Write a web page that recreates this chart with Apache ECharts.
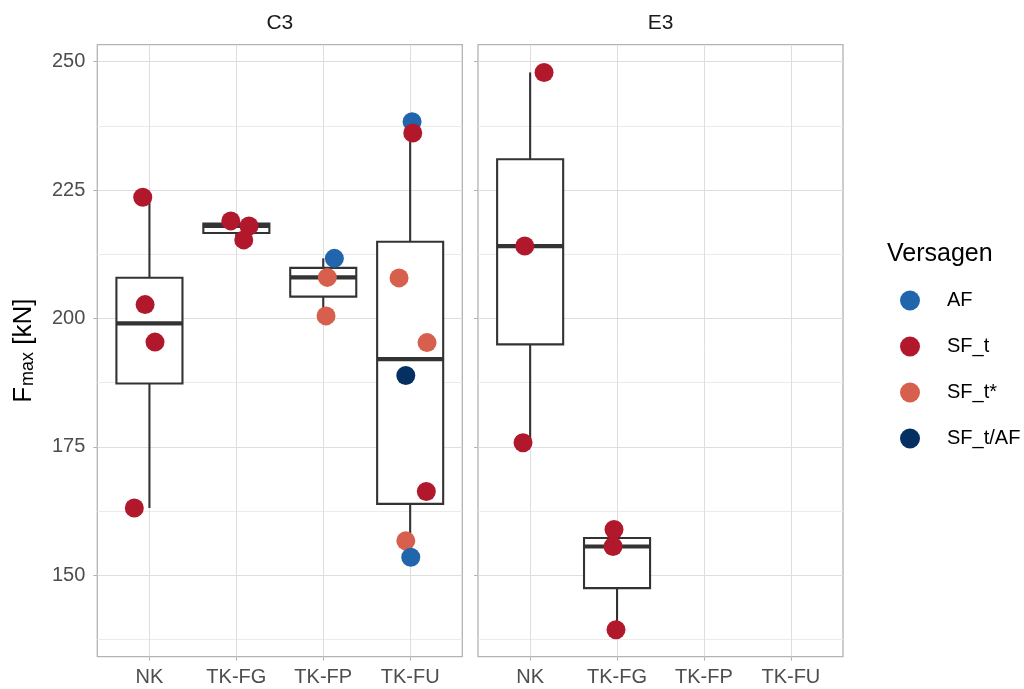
<!DOCTYPE html>
<html>
<head>
<meta charset="utf-8">
<script src="https://cdn.jsdelivr.net/npm/echarts@6/dist/echarts.min.js"></script>
<style>
html,body{margin:0;padding:0;background:#ffffff;}
#chart{width:1024px;height:689px;}
</style>
</head>
<body>
<div id="chart"></div>
<script>
// ---------------- data ----------------
const categories = ['NK', 'TK-FG', 'TK-FP', 'TK-FU'];
const panels = ['C3', 'E3'];
const groups = ['AF', 'SF_t', 'SF_t*', 'SF_t/AF'];
const groupColors = ['#2166ac', '#b2182b', '#d6604d', '#053061'];
const yTicks = [150, 175, 200, 225, 250];
const yMinorTicks = [137.5, 162.5, 187.5, 212.5, 237.5];
const yRange = [134.15, 253.3];

// panel C3 (jitter = horizontal offset in category units)
const c3Category = ['NK','NK','NK','NK','TK-FG','TK-FG','TK-FG','TK-FP','TK-FP','TK-FP',
                    'TK-FU','TK-FU','TK-FU','TK-FU','TK-FU','TK-FU','TK-FU','TK-FU'];
const c3Value    = [223.6, 202.7, 195.4, 163.1, 219.0, 218.0, 215.3, 211.7, 208.0, 200.5,
                    238.3, 236.1, 207.9, 195.3, 188.9, 166.3, 156.7, 153.5];
const c3Group    = ['SF_t','SF_t','SF_t','SF_t','SF_t','SF_t','SF_t','AF','SF_t*','SF_t*',
                    'AF','SF_t','SF_t*','SF_t*','SF_t/AF','SF_t','SF_t*','AF'];
const c3Jitter   = [-0.077, -0.05, 0.064, -0.174, -0.064, 0.146, 0.085, 0.128, 0.047, 0.032,
                    0.022, 0.03, -0.128, 0.194, -0.05, 0.186, -0.05, 0.007];

// panel E3
const e3Category = ['NK','NK','NK','TK-FG','TK-FG','TK-FG'];
const e3Value    = [247.9, 214.1, 175.8, 158.9, 155.6, 139.4];
const e3Group    = ['SF_t','SF_t','SF_t','SF_t','SF_t','SF_t'];
const e3Jitter   = [0.16, -0.062, -0.082, -0.035, -0.046, -0.012];

// ---------------- helpers ----------------
const FONT = 'Liberation Sans';

function quantile(sorted, p) {
  const h = (sorted.length - 1) * p;
  const lo = Math.floor(h), hi = Math.ceil(h);
  return sorted[lo] + (h - lo) * (sorted[hi] - sorted[lo]);
}
function boxStats(cats, vals) {
  const out = [];
  categories.forEach((c, i) => {
    const v = vals.filter((_, k) => cats[k] === c).sort((a, b) => a - b);
    if (!v.length) return;
    const q1 = quantile(v, 0.25), med = quantile(v, 0.5), q3 = quantile(v, 0.75);
    const iqr = q3 - q1;
    const inside = v.filter(x => x >= q1 - 1.5 * iqr && x <= q3 + 1.5 * iqr);
    out.push([i, Math.min(...inside), q1, med, q3, Math.max(...inside)]);
  });
  return out;
}
function groupPoints(cats, vals, grps, jit, g) {
  const out = [];
  vals.forEach((v, k) => {
    if (grps[k] === g) out.push([categories.indexOf(cats[k]) + jit[k], v]);
  });
  return out;
}

const BOX_HALF = 0.38;
function renderBox(params, api) {
  const x = api.value(0);
  const lw = api.value(1), q1 = api.value(2), med = api.value(3), q3 = api.value(4), uw = api.value(5);
  const tl = api.coord([x - BOX_HALF, q3]);
  const br = api.coord([x + BOX_HALF, q1]);
  const pm = api.coord([x, med]);
  const pLow = api.coord([x, lw]), pQ1 = api.coord([x, q1]);
  const pQ3 = api.coord([x, q3]), pUp = api.coord([x, uw]);
  const ls = {stroke: '#333333', lineWidth: 2.1};
  return {
    type: 'group',
    children: [
      {type: 'line', shape: {x1: pUp[0], y1: pUp[1], x2: pQ3[0], y2: pQ3[1]}, style: ls},
      {type: 'line', shape: {x1: pQ1[0], y1: pQ1[1], x2: pLow[0], y2: pLow[1]}, style: ls},
      {type: 'rect', shape: {x: tl[0], y: tl[1], width: br[0] - tl[0], height: br[1] - tl[1]},
       style: {fill: '#ffffff', stroke: '#333333', lineWidth: 2.1}},
      {type: 'line', shape: {x1: tl[0], y1: pm[1], x2: br[0], y2: pm[1]},
       style: {stroke: '#333333', lineWidth: 4.2}}
    ]
  };
}

// ---------------- layout ----------------
const PANEL_TOP = 44.7, PANEL_H = 612, PANEL_W = 365;
const panelLeft = [97.3, 478];
const band = PANEL_W / 4.2;

const grids = [], xAxes = [], yAxes = [], series = [];
const panelData = [
  {cat: c3Category, val: c3Value, grp: c3Group, jit: c3Jitter},
  {cat: e3Category, val: e3Value, grp: e3Group, jit: e3Jitter}
];

panels.forEach((p, pi) => {
  const frameGrid = grids.length;
  grids.push({left: panelLeft[pi], top: PANEL_TOP, width: PANEL_W, height: PANEL_H,
              show: true, borderColor: '#b3b3b3', borderWidth: 1.3, backgroundColor: 'transparent',
              containLabel: false, outerBoundsMode: 'none'});
  const dataGrid = grids.length;
  grids.push({left: panelLeft[pi] + 0.6 * band, top: PANEL_TOP, width: 3 * band, height: PANEL_H,
              show: false, containLabel: false, outerBoundsMode: 'none'});

  // frame axes
  xAxes.push({gridIndex: frameGrid, type: 'value', min: 0, max: 1, show: false});
  yAxes.push({
    gridIndex: frameGrid, type: 'value', min: yRange[0], max: yRange[1], position: 'left',
    axisLine: {show: false},
    axisTick: {show: true, length: 4, customValues: yTicks, lineStyle: {color: '#b3b3b3', width: 1}},
    axisLabel: {show: pi === 0, customValues: yTicks, fontSize: 20, color: '#4d4d4d', margin: 12, fontFamily: FONT},
    splitLine: {show: true, lineStyle: {color: '#dedede', width: 1}},
    name: pi === 0 ? '{a|F}{b|max}{a| [kN]}' : '',
    nameLocation: 'middle', nameRotate: 90, nameGap: 60,
    nameTextStyle: {
      fontFamily: FONT, color: '#000000',
      rich: {
        a: {fontSize: 26, lineHeight: 26, fontFamily: FONT, color: '#000000'},
        b: {fontSize: 18, lineHeight: 18, fontFamily: FONT, color: '#000000', verticalAlign: 'bottom', padding: [13, 0, 0, 1]}
      }
    }
  });
  yAxes.push({
    gridIndex: frameGrid, type: 'value', min: yRange[0], max: yRange[1], position: 'left',
    axisLine: {show: false},
    axisTick: {show: false, customValues: yMinorTicks},
    axisLabel: {show: false, customValues: yMinorTicks},
    splitLine: {show: true, lineStyle: {color: '#ebebeb', width: 1}}
  });

  // data axes
  const dataX = xAxes.length;
  xAxes.push({
    gridIndex: dataGrid, type: 'value', min: 0, max: 3, interval: 1,
    axisLine: {show: false},
    axisTick: {show: true, length: 4, lineStyle: {color: '#b3b3b3', width: 1}},
    axisLabel: {fontSize: 20, color: '#4d4d4d', margin: 11, fontFamily: FONT,
                formatter: v => categories[Math.round(v)]},
    splitLine: {show: true, lineStyle: {color: '#dedede', width: 1}}
  });
  const dataY = yAxes.length;
  yAxes.push({gridIndex: dataGrid, type: 'value', min: yRange[0], max: yRange[1], show: false,
              splitLine: {show: false}});

  const d = panelData[pi];
  series.push({
    type: 'custom', name: p + ' box', xAxisIndex: dataX, yAxisIndex: dataY,
    renderItem: renderBox, data: boxStats(d.cat, d.val),
    encode: {x: 0, y: [1, 2, 3, 4, 5]}, z: 2, silent: true, clip: false
  });
  const zOrder = {'SF_t*': 3, 'AF': 4, 'SF_t': 5, 'SF_t/AF': 6};
  groups.forEach((g, gi) => {
    series.push({
      type: 'scatter', name: g, xAxisIndex: dataX, yAxisIndex: dataY,
      data: groupPoints(d.cat, d.val, d.grp, d.jit, g),
      symbol: 'circle', symbolSize: 19, clip: false, z: zOrder[g],
      itemStyle: {color: groupColors[gi], opacity: 1, borderWidth: 0},
      emphasis: {disabled: true}, silent: true
    });
  });
});

const option = {
  animation: false,
  backgroundColor: '#ffffff',
  textStyle: {fontFamily: FONT},
  grid: grids,
  xAxis: xAxes,
  yAxis: yAxes,
  legend: {
    orient: 'vertical', left: 900, top: 290.5, padding: 0,
    itemWidth: 20, itemHeight: 20, itemGap: 26, icon: 'circle',
    selectedMode: false,
    data: groups,
    itemStyle: {borderWidth: 0},
    textStyle: {fontSize: 20, color: '#000000', fontFamily: FONT, padding: [0, 0, 0, 22]}
  },
  graphic: [
    {type: 'text', x: 279.8, y: 23, silent: true,
     style: {text: panels[0], font: '21px "Liberation Sans"', fill: '#1a1a1a', textAlign: 'center', textVerticalAlign: 'middle'}},
    {type: 'text', x: 660.5, y: 23, silent: true,
     style: {text: panels[1], font: '21px "Liberation Sans"', fill: '#1a1a1a', textAlign: 'center', textVerticalAlign: 'middle'}},
    {type: 'text', x: 887, y: 254, silent: true,
     style: {text: 'Versagen', font: '25px "Liberation Sans"', fill: '#000000', textAlign: 'left', textVerticalAlign: 'middle'}}
  ],
  series: series
};

const chart = echarts.init(document.getElementById('chart'), null, {renderer: 'canvas'});
chart.setOption(option);
</script>
</body>
</html>
